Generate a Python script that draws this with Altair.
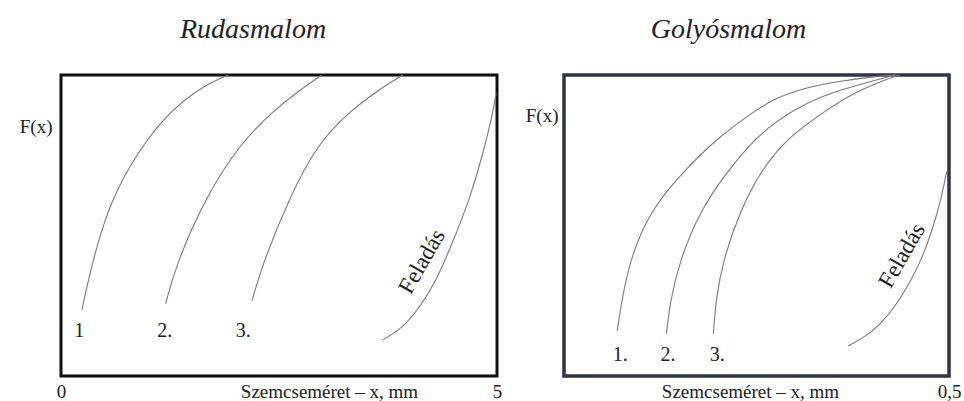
import altair as alt
import pandas as pd

# ---- Rudasmalom (rod mill), x in mm, F(x) as fraction ----
rud_names = ["1", "2", "3", "Feladás"]
rud_x = [
    [0.24, 0.36, 0.56, 0.91, 1.28, 1.67, 1.92],
    [1.20, 1.33, 1.67, 2.05, 2.43, 2.74, 2.99],
    [2.19, 2.32, 2.63, 2.94, 3.31, 3.69, 3.92],
    [3.69, 3.92, 4.12, 4.31, 4.50, 4.69, 4.84, 4.95, 4.99],
]
rud_F = [
    [0.22, 0.38, 0.58, 0.76, 0.89, 0.97, 1.00],
    [0.24, 0.38, 0.60, 0.77, 0.88, 0.95, 1.00],
    [0.25, 0.38, 0.60, 0.77, 0.88, 0.96, 1.00],
    [0.12, 0.16, 0.23, 0.32, 0.45, 0.59, 0.74, 0.87, 0.94],
]
rud_label_text = ["1", "2.", "3."]
rud_label_x = [0.21, 1.19, 2.09]
rud_label_F = [0.15, 0.15, 0.15]
rud_feed_x = [4.14]
rud_feed_F = [0.38]

# ---- Golyósmalom (ball mill) ----
goly_names = ["1", "2", "3", "Feladás"]
goly_x = [
    [0.069, 0.075, 0.086, 0.112, 0.155, 0.199, 0.242, 0.271, 0.316, 0.358, 0.410, 0.432],
    [0.133, 0.138, 0.151, 0.177, 0.212, 0.242, 0.271, 0.316, 0.358, 0.401, 0.430],
    [0.194, 0.197, 0.207, 0.229, 0.255, 0.290, 0.333, 0.375, 0.423, 0.436],
    [0.369, 0.391, 0.410, 0.430, 0.449, 0.465, 0.479, 0.490, 0.497],
]
goly_F = [
    [0.15, 0.25, 0.39, 0.55, 0.68, 0.79, 0.87, 0.92, 0.96, 0.98, 0.997, 1.00],
    [0.14, 0.25, 0.39, 0.55, 0.68, 0.77, 0.84, 0.91, 0.95, 0.98, 1.00],
    [0.14, 0.25, 0.39, 0.55, 0.68, 0.79, 0.87, 0.94, 0.99, 1.00],
    [0.10, 0.13, 0.17, 0.23, 0.31, 0.39, 0.49, 0.59, 0.68],
]
goly_label_text = ["1.", "2.", "3."]
goly_label_x = [0.073, 0.135, 0.199]
goly_label_F = [0.07, 0.07, 0.07]
goly_feed_x = [0.439]
goly_feed_F = [0.40]

FEED_TEXT = "Feladás"
X_TITLE = "Szemcseméret – x, mm"
SERIF = "Liberation Serif"
INK = "#222222"
CURVE = "#7a7a7a"


def curve_frame(names, xs, fs):
    rows = []
    for name, xv, fv in zip(names, xs, fs):
        for a, b in zip(xv, fv):
            rows.append({"curve": name, "x": a, "F": b})
    return pd.DataFrame(rows)


def panel(names, xs, fs, lab_text, lab_x, lab_F, feed_x, feed_F,
          x_domain, x_values, label_expr, title, title_dx,
          fx_x, fx_y, xt_x, width, stroke, stroke_width):
    x_axis_kw = dict(
        values=x_values, title=X_TITLE, domain=False, ticks=False, tickSize=0,
        grid=False, labelFlush=False, labelOverlap=False, labelPadding=15,
        labelBaseline="middle", titleX=xt_x, titleY=15, titleBaseline="middle",
        titleAlign="center",
    )
    if label_expr:
        x_axis_kw["labelExpr"] = label_expr
    x_enc = alt.X("x:Q", scale=alt.Scale(domain=x_domain, nice=False, zero=False),
                  axis=alt.Axis(**x_axis_kw))
    y_enc = alt.Y("F:Q", scale=alt.Scale(domain=[0, 1], nice=False),
                  axis=alt.Axis(title="F(x)", titleAngle=0, titleAlign="right",
                                titleBaseline="middle", titleX=fx_x, titleY=fx_y,
                                labels=False, ticks=False, domain=False, grid=False))

    lines = alt.Chart(curve_frame(names, xs, fs)).mark_line(
        color=CURVE, strokeWidth=1.1, interpolate="basis"
    ).encode(x=x_enc, y=y_enc, detail="curve:N")

    labels = alt.Chart(pd.DataFrame({"t": lab_text, "x": lab_x, "F": lab_F})).mark_text(
        font=SERIF, fontSize=20, color=INK, align="center", baseline="middle"
    ).encode(x=x_enc, y=y_enc, text="t:N")

    feed = alt.Chart(pd.DataFrame({"t": [FEED_TEXT], "x": feed_x, "F": feed_F})).mark_text(
        font=SERIF, fontSize=23, color=INK, angle=300, align="center", baseline="middle"
    ).encode(x=x_enc, y=y_enc, text="t:N")

    return alt.layer(lines, labels, feed).properties(
        width=width, height=301,
        title=alt.TitleParams(title, font=SERIF, fontStyle="italic", fontSize=28,
                              fontWeight="normal", color=INK, anchor="middle",
                              frame="group", dx=title_dx, offset=7,
                              baseline="alphabetic"),
        view=alt.ViewBackground(stroke=stroke, strokeWidth=stroke_width, fill="white"),
    )


left = panel(rud_names, rud_x, rud_F, rud_label_text, rud_label_x, rud_label_F,
             rud_feed_x, rud_feed_F, [0, 5], [0, 5], None, "Rudasmalom", -26,
             -9, 51, 268, 436, "#111111", 3)
right = panel(goly_names, goly_x, goly_F, goly_label_text, goly_label_x, goly_label_F,
              goly_feed_x, goly_feed_F, [0, 0.5], [0.5],
              "replace(datum.label, '.', ',')", "Golyósmalom", -28,
              -6, 40, 186, 385, "#2e3548", 3.5)

chart = alt.hconcat(left, right, spacing=67, bounds="flush").properties(
    padding={"left": 17, "top": 14, "right": 0, "bottom": 0},
    background="white",
).configure_axis(
    labelFont=SERIF, labelFontSize=19, labelColor=INK,
    titleFont=SERIF, titleFontSize=19, titleFontWeight="normal", titleColor=INK,
)

chart.save("out.html", embed_options={"renderer": "svg", "actions": False})
